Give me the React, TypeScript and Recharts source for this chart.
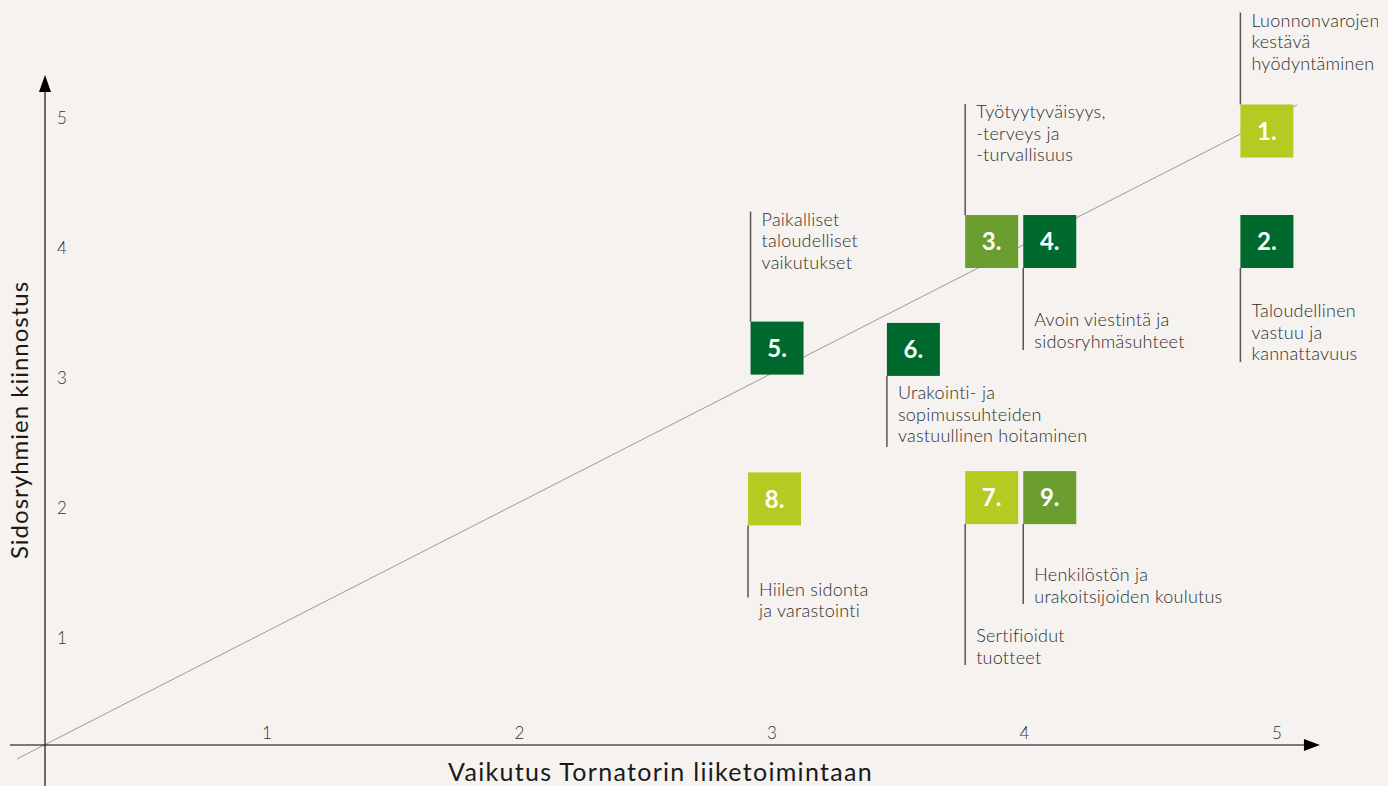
import { ScatterChart, Scatter, XAxis, YAxis, ReferenceLine } from 'recharts';

// materiality matrix: impact on business (x) vs stakeholder interest (y)
const TOPIC_IDS = [1, 2, 3, 4, 5, 6, 7, 8, 9];
const IMPACT = [4.96, 4.96, 3.87, 4.1, 3.02, 3.56, 3.87, 3.01, 4.1];
const INTEREST = [4.9, 4.05, 4.05, 4.05, 3.23, 3.22, 2.08, 2.07, 2.08];
const TOPIC_GROUP = ['light', 'dark', 'mid', 'dark', 'dark', 'dark', 'light', 'light', 'mid'];
const TOPIC_LABELS = [
  ['Luonnonvarojen', 'kestävä', 'hyödyntäminen'],
  ['Taloudellinen', 'vastuu ja', 'kannattavuus'],
  ['Työtyytyväisyys,', '-terveys ja', '-turvallisuus'],
  ['Avoin viestintä ja', 'sidosryhmäsuhteet'],
  ['Paikalliset', 'taloudelliset', 'vaikutukset'],
  ['Urakointi- ja', 'sopimussuhteiden', 'vastuullinen hoitaminen'],
  ['Sertifioidut', 'tuotteet'],
  ['Hiilen sidonta', 'ja varastointi'],
  ['Henkilöstön ja', 'urakoitsijoiden koulutus'],
];

const X_TICKS = [1, 2, 3, 4, 5];
const Y_TICKS = [1, 2, 3, 4, 5];
const X_TITLE = 'Vaikutus Tornatorin liiketoimintaan';
const Y_TITLE = 'Sidosryhmien kiinnostus';

const DIAGONAL = [
  { x: 0.01, y: 0.07 },
  { x: 5.08, y: 5.1 },
];
const X_AXIS_LINE = [
  { x: -0.018, y: 0.177 },
  { x: 5.17, y: 0.177 },
];
const Y_AXIS_LINE = [
  { x: 0.1208, y: -0.17 },
  { x: 0.1208, y: 5.33 },
];

// leader line layout for each topic label
const LEADERS = [
  { dir: 'up', len: 92, text: 0 },
  { dir: 'down', len: 94, text: 43 },
  { dir: 'up', len: 111, text: 0 },
  { dir: 'down', len: 82, text: 52 },
  { dir: 'up', len: 110, text: 0 },
  { dir: 'down', len: 71, text: 17 },
  { dir: 'down', len: 141, text: 112 },
  { dir: 'down', len: 72, text: 64 },
  { dir: 'down', len: 80, text: 51 },
];

const COLORS: Record<string, string> = {
  light: '#b6cb22',
  mid: '#6b9e2f',
  dark: '#006a2e',
};

const FONT = 'Lato, "Open Sans", sans-serif';
const SQ = 53;
const LINE_H = 21.5;

const data = TOPIC_IDS.map((id, i) => ({
  id,
  x: IMPACT[i],
  y: INTEREST[i],
  group: TOPIC_GROUP[i],
  lines: TOPIC_LABELS[i],
  leader: LEADERS[i],
}));

const TopicMarker = (props: any) => {
  const { cx, cy, payload } = props;
  if (cx == null || cy == null) return null;
  const left = cx - SQ / 2;
  const top = cy - SQ / 2;
  const { dir, len, text } = payload.leader;
  let y1: number, y2: number, firstLine: number;
  if (dir === 'up') {
    y1 = top;
    y2 = top - len;
    firstLine = y2 + 8;
  } else {
    y1 = top + SQ;
    y2 = y1 + len;
    firstLine = y1 + text;
  }
  return (
    <g>
      <line x1={left} y1={y1} x2={left} y2={y2} stroke="#555" strokeWidth={1.5} />
      {payload.lines.map((t: string, i: number) => (
        <text
          key={i}
          x={left + 11}
          y={firstLine + i * LINE_H}
          dy="0.35em"
          fontFamily={FONT}
          fontWeight={300}
          fontSize={18}
          letterSpacing={0.25}
          fill="#2e2e2e"
        >
          {t}
        </text>
      ))}
      <rect x={left} y={top} width={SQ} height={SQ} fill={COLORS[payload.group]} />
      <text
        x={cx}
        y={cy}
        dy="0.36em"
        textAnchor="middle"
        fontFamily={FONT}
        fontWeight={700}
        fontSize={24}
        fill="#fff"
      >
        {payload.id}.
      </text>
    </g>
  );
};

const XTick = (props: any) => {
  const { x, y, payload } = props;
  return (
    <text x={x} y={y - 12} dy="0.35em" textAnchor="middle" fontFamily={FONT} fontWeight={300} fontSize={17} fill="#333">
      {payload.value}
    </text>
  );
};

const YTick = (props: any) => {
  const { x, y, payload } = props;
  return (
    <text x={x + 12} y={y} dy="0.35em" textAnchor="start" fontFamily={FONT} fontWeight={300} fontSize={17} fill="#333">
      {payload.value}
    </text>
  );
};

const XTitle = (props: any) => {
  const vb = props.viewBox;
  return (
    <text
      x={vb.x + vb.width / 2 - 51}
      y={vb.y + 27}
      dy="0.35em"
      textAnchor="middle"
      fontFamily={FONT}
      fontSize={25}
      letterSpacing={1.3}
      fill="#1a1a1a"
    >
      {X_TITLE}
    </text>
  );
};

const YTitle = (props: any) => {
  const vb = props.viewBox;
  const cx = 20;
  const cy = vb.y + vb.height / 2 + 47;
  return (
    <text
      x={cx}
      y={cy}
      dy="0.35em"
      textAnchor="middle"
      transform={`rotate(-90 ${cx} ${cy})`}
      fontFamily={FONT}
      fontSize={24}
      letterSpacing={1}
      fill="#1a1a1a"
    >
      {Y_TITLE}
    </text>
  );
};

const arrow = (horizontal: boolean, color: string, width: number) => (props: any) => {
  const { x1, y1, x2, y2 } = props;
  const head = horizontal ? 16 : 17;
  const half = 6;
  if (horizontal) {
    return (
      <g>
        <line x1={x1} y1={y1} x2={x2 - head} y2={y2} stroke={color} strokeWidth={width} />
        <polygon points={`${x2},${y2} ${x2 - head},${y2 - half} ${x2 - head},${y2 + half}`} fill="#000" />
      </g>
    );
  }
  // vertical: tip at the upper end
  const tipY = Math.min(y1, y2);
  const baseY = Math.max(y1, y2);
  return (
    <g>
      <line x1={x1} y1={baseY} x2={x1} y2={tipY + head} stroke={color} strokeWidth={width} />
      <polygon points={`${x1},${tipY} ${x1 - half},${tipY + head} ${x1 + half},${tipY + head}`} fill="#000" />
    </g>
  );
};

export default function App() {
  return (
    <div style={{ position: 'absolute', top: 0, left: 0, width: 1388, height: 786, background: '#f5f2ef' }}>
      <ScatterChart width={1388} height={786} margin={{ top: 1, right: 10, bottom: 0, left: 0 }}>
        <XAxis
          type="number"
          dataKey="x"
          domain={[0.1208, 5.4]}
          allowDataOverflow
          ticks={X_TICKS}
          interval={0}
          axisLine={false}
          tickLine={false}
          tickSize={0}
          tickMargin={0}
          height={41}
          tick={<XTick />}
          label={{ value: X_TITLE, content: <XTitle /> }}
        />
        <YAxis
          type="number"
          dataKey="y"
          domain={[0.177, 5.9]}
          allowDataOverflow
          ticks={Y_TICKS}
          interval={0}
          axisLine={false}
          tickLine={false}
          tickSize={0}
          tickMargin={0}
          width={45}
          tick={<YTick />}
          label={{ value: Y_TITLE, content: <YTitle /> }}
        />
        <ReferenceLine segment={DIAGONAL} stroke="#9a9a9a" strokeWidth={1} ifOverflow="visible" />
        <ReferenceLine segment={Y_AXIS_LINE} ifOverflow="visible" shape={arrow(false, '#6b6b6b', 2)} />
        <ReferenceLine segment={X_AXIS_LINE} ifOverflow="visible" shape={arrow(true, '#000', 1.2)} />
        <Scatter data={data} shape={<TopicMarker />} isAnimationActive={false} />
      </ScatterChart>
    </div>
  );
}
